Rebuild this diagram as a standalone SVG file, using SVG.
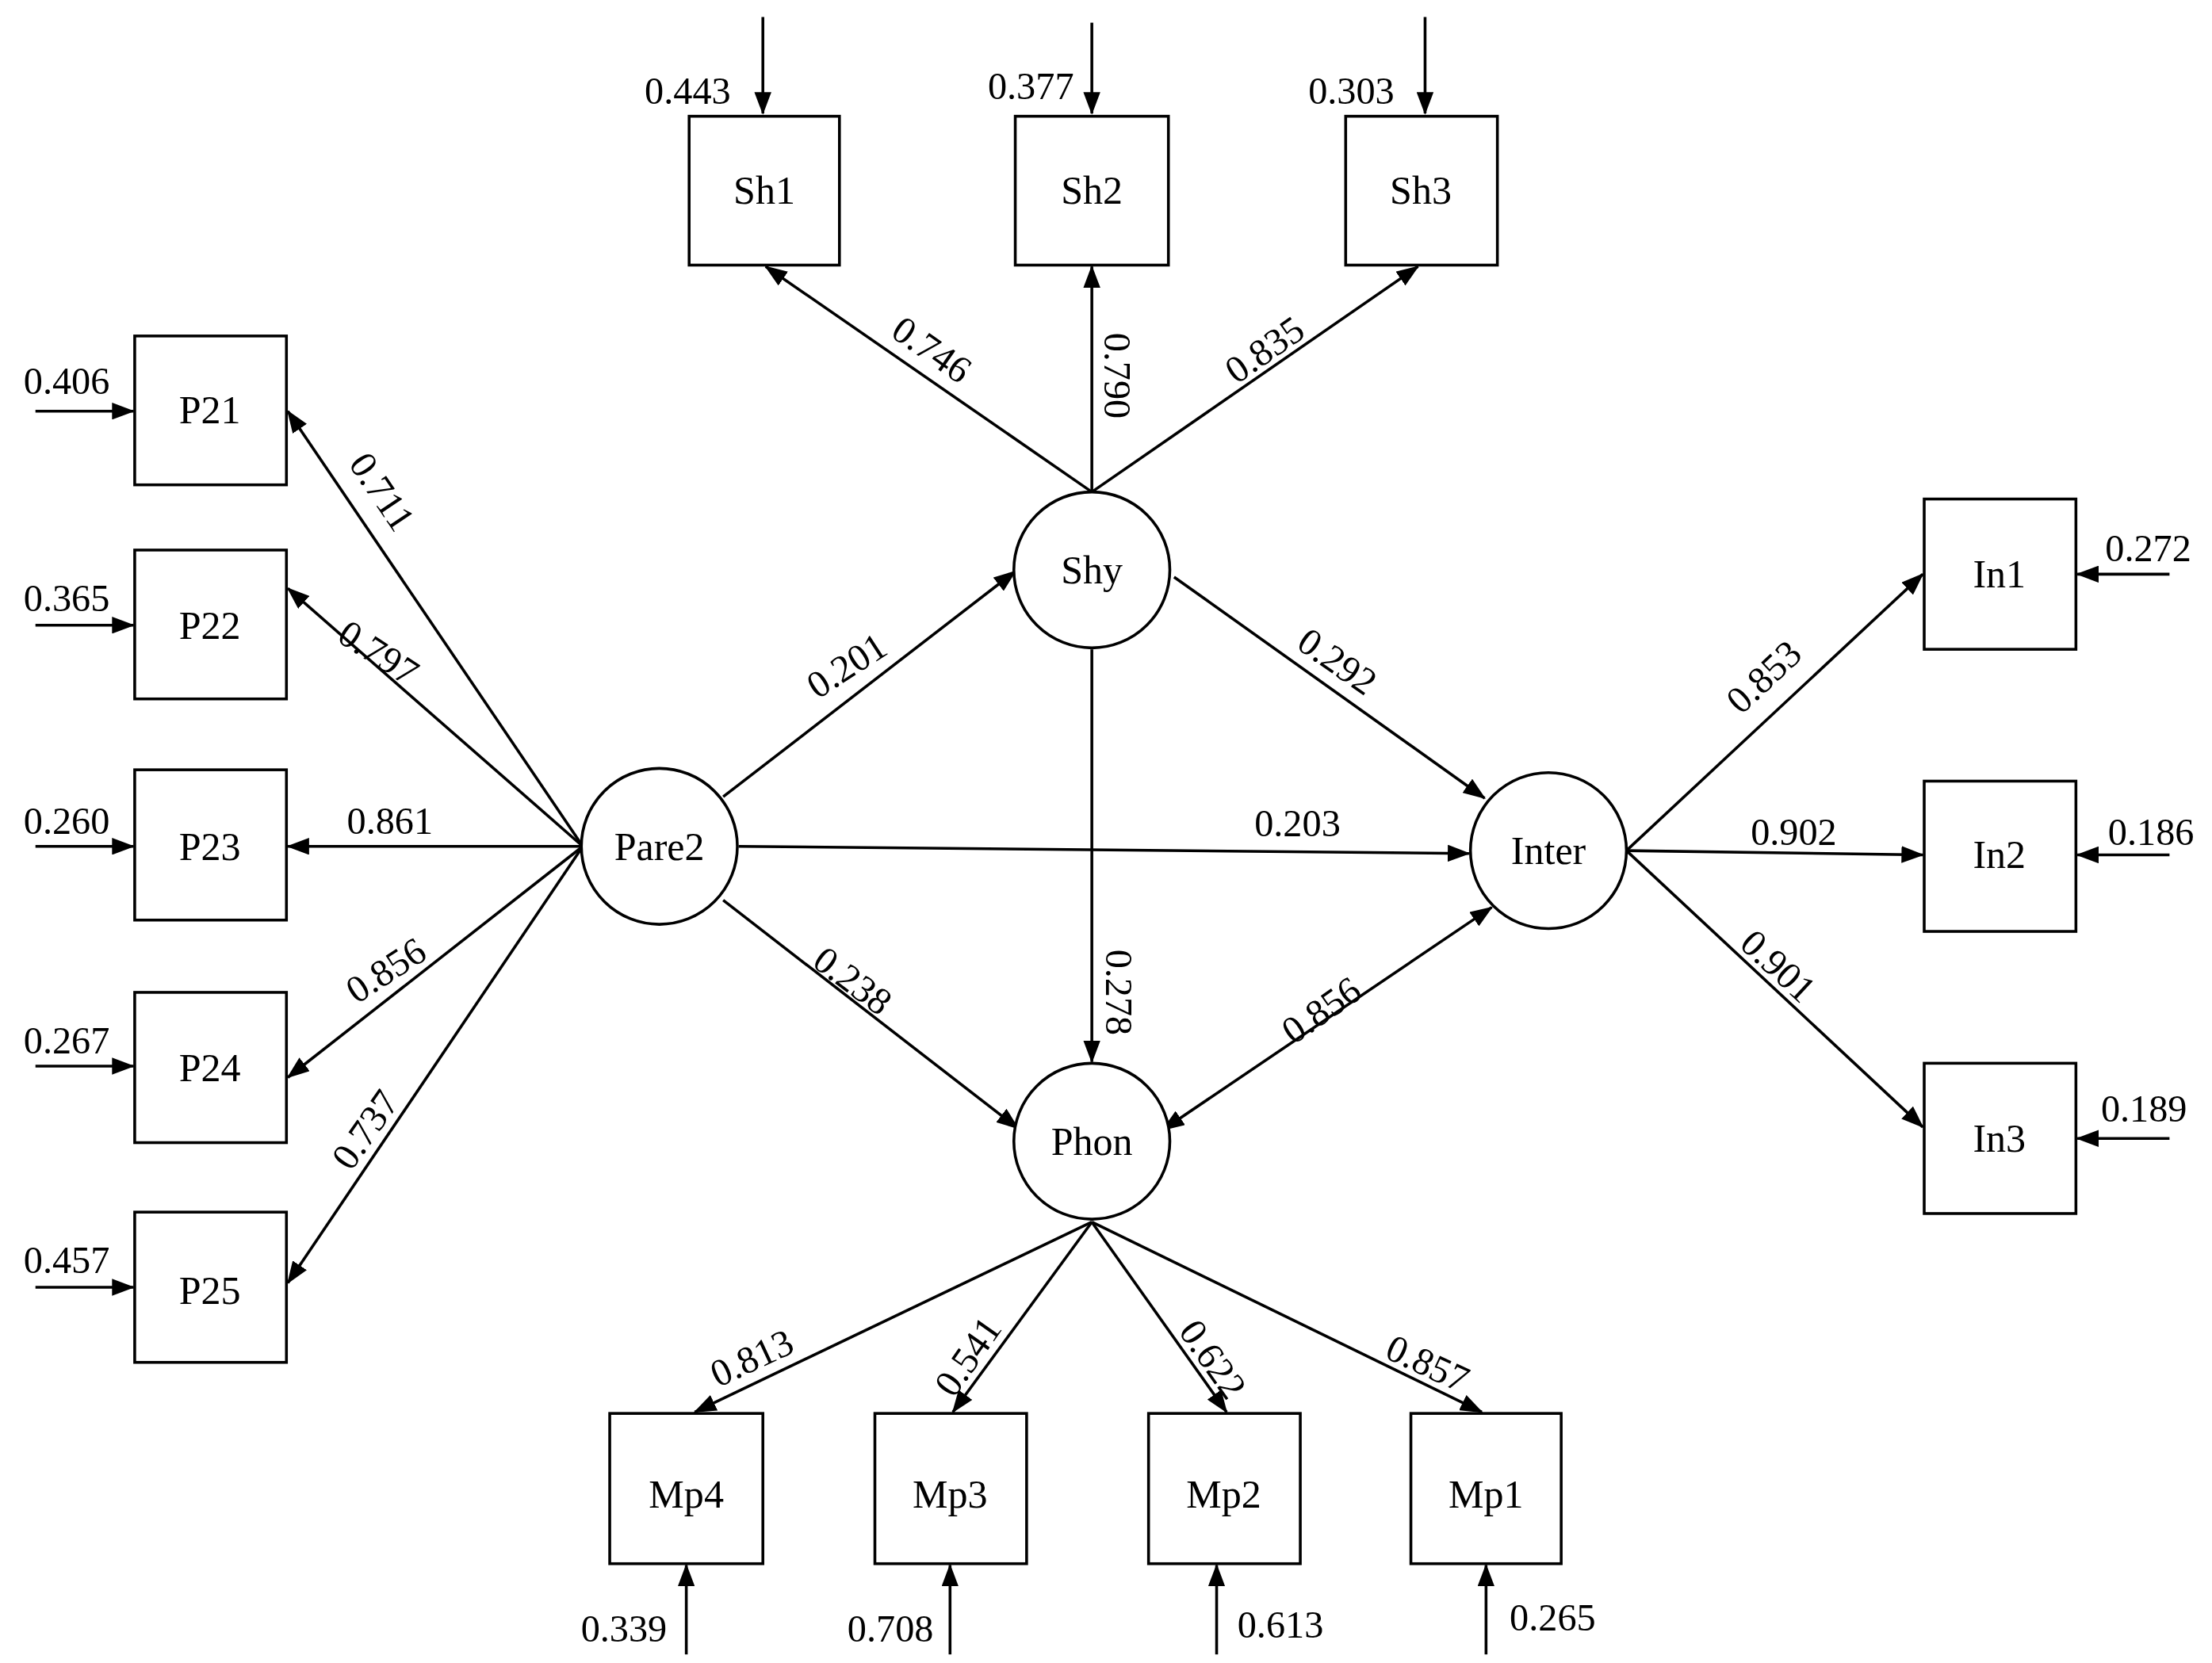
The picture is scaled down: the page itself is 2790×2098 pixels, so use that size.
<svg xmlns="http://www.w3.org/2000/svg" width="2790" height="2098" viewBox="0 0 2790 2098">
<style>
.b{fill:#fff;stroke:#000;stroke-width:2}
.t{font-family:"Liberation Serif",serif;font-size:28px;text-anchor:middle;dominant-baseline:central}
.l{font-family:"Liberation Serif",serif;font-size:27px;text-anchor:middle}
.c line{stroke:#000;stroke-width:2}
</style>
<defs>
<marker id="s" markerWidth="16" markerHeight="12" refX="15" refY="6" orient="auto-start-reverse" markerUnits="userSpaceOnUse"><path d="M0,0L16,6L0,12z"/></marker></defs>
<rect width="2790" height="2098" fill="#fff"/>
<g transform="scale(1.7885)">
<g class="c" id="connectors">
<line x1="538" y1="12" x2="538" y2="80" marker-end="url(#s)"/>
<line x1="770" y1="16" x2="770" y2="80" marker-end="url(#s)"/>
<line x1="1005" y1="12" x2="1005" y2="80" marker-end="url(#s)"/>
<line x1="25" y1="290" x2="94" y2="290" marker-end="url(#s)"/>
<line x1="25" y1="441" x2="94" y2="441" marker-end="url(#s)"/>
<line x1="25" y1="597" x2="94" y2="597" marker-end="url(#s)"/>
<line x1="25" y1="752" x2="94" y2="752" marker-end="url(#s)"/>
<line x1="25" y1="908" x2="94" y2="908" marker-end="url(#s)"/>
<line x1="1530" y1="405" x2="1465" y2="405" marker-end="url(#s)"/>
<line x1="1530" y1="603" x2="1465" y2="603" marker-end="url(#s)"/>
<line x1="1530" y1="803" x2="1465" y2="803" marker-end="url(#s)"/>
<line x1="484" y1="1167" x2="484" y2="1104" marker-end="url(#s)"/>
<line x1="670" y1="1167" x2="670" y2="1104" marker-end="url(#s)"/>
<line x1="858" y1="1167" x2="858" y2="1104" marker-end="url(#s)"/>
<line x1="1048" y1="1167" x2="1048" y2="1104" marker-end="url(#s)"/>
<line x1="770" y1="347" x2="540" y2="188" marker-end="url(#s)"/>
<line x1="770" y1="347" x2="770" y2="188" marker-end="url(#s)"/>
<line x1="770" y1="347" x2="1000" y2="188" marker-end="url(#s)"/>
<line x1="411" y1="597" x2="203" y2="290" marker-end="url(#s)"/>
<line x1="411" y1="597" x2="203" y2="415" marker-end="url(#s)"/>
<line x1="411" y1="597" x2="203" y2="597" marker-end="url(#s)"/>
<line x1="411" y1="597" x2="203" y2="760" marker-end="url(#s)"/>
<line x1="411" y1="597" x2="203" y2="905" marker-end="url(#s)"/>
<line x1="1147" y1="600" x2="1356" y2="405" marker-end="url(#s)"/>
<line x1="1147" y1="600" x2="1356" y2="603" marker-end="url(#s)"/>
<line x1="1147" y1="600" x2="1356" y2="795" marker-end="url(#s)"/>
<line x1="770" y1="862" x2="490" y2="996" marker-end="url(#s)"/>
<line x1="770" y1="862" x2="672" y2="996" marker-end="url(#s)"/>
<line x1="770" y1="862" x2="865" y2="996" marker-end="url(#s)"/>
<line x1="770" y1="862" x2="1045" y2="996" marker-end="url(#s)"/>
<line x1="510" y1="562" x2="716" y2="403" marker-end="url(#s)"/>
<line x1="828" y1="407" x2="1047" y2="563" marker-end="url(#s)"/>
<line x1="521" y1="597" x2="1036" y2="602" marker-end="url(#s)"/>
<line x1="510" y1="635" x2="718" y2="796" marker-end="url(#s)"/>
<line x1="770" y1="458" x2="770" y2="749" marker-end="url(#s)"/>
<line x1="1052" y1="640" x2="820" y2="797" marker-start="url(#s)" marker-end="url(#s)"/>
</g>
<g id="Sh1"><rect class="b" x="486" y="82" width="106" height="105"/><text class="t" x="539" y="134">Sh1</text></g>
<g id="Sh2"><rect class="b" x="716" y="82" width="108" height="105"/><text class="t" x="770" y="134">Sh2</text></g>
<g id="Sh3"><rect class="b" x="949" y="82" width="107" height="105"/><text class="t" x="1002" y="134">Sh3</text></g>
<g id="P21"><rect class="b" x="95" y="237" width="107" height="105"/><text class="t" x="148" y="289">P21</text></g>
<g id="P22"><rect class="b" x="95" y="388" width="107" height="105"/><text class="t" x="148" y="441">P22</text></g>
<g id="P23"><rect class="b" x="95" y="543" width="107" height="106"/><text class="t" x="148" y="597">P23</text></g>
<g id="P24"><rect class="b" x="95" y="700" width="107" height="106"/><text class="t" x="148" y="753">P24</text></g>
<g id="P25"><rect class="b" x="95" y="855" width="107" height="106"/><text class="t" x="148" y="910">P25</text></g>
<g id="In1"><rect class="b" x="1357" y="352" width="107" height="106"/><text class="t" x="1410" y="405">In1</text></g>
<g id="In2"><rect class="b" x="1357" y="551" width="107" height="106"/><text class="t" x="1410" y="603">In2</text></g>
<g id="In3"><rect class="b" x="1357" y="750" width="107" height="106"/><text class="t" x="1410" y="803">In3</text></g>
<g id="Mp4"><rect class="b" x="430" y="997" width="108" height="106"/><text class="t" x="484" y="1054">Mp4</text></g>
<g id="Mp3"><rect class="b" x="617" y="997" width="107" height="106"/><text class="t" x="670" y="1054">Mp3</text></g>
<g id="Mp2"><rect class="b" x="810" y="997" width="107" height="106"/><text class="t" x="863" y="1054">Mp2</text></g>
<g id="Mp1"><rect class="b" x="995" y="997" width="106" height="106"/><text class="t" x="1048" y="1054">Mp1</text></g>
<g id="Shy"><circle class="b" cx="770" cy="402" r="55"/><text class="t" x="770" y="402">Shy</text></g>
<g id="Pare2"><circle class="b" cx="465" cy="597" r="55"/><text class="t" x="465" y="597">Pare2</text></g>
<g id="Inter"><circle class="b" cx="1092" cy="600" r="55"/><text class="t" x="1092" y="600">Inter</text></g>
<g id="Phon"><circle class="b" cx="770" cy="805" r="55"/><text class="t" x="770" y="805">Phon</text></g>
<g id="labels">
<text class="l" x="485" y="73">0.443</text>
<text class="l" x="727" y="70">0.377</text>
<text class="l" x="953" y="73">0.303</text>
<text class="l" x="47" y="278">0.406</text>
<text class="l" x="47" y="431">0.365</text>
<text class="l" x="47" y="588">0.260</text>
<text class="l" x="47" y="743">0.267</text>
<text class="l" x="47" y="898">0.457</text>
<text class="l" x="1515" y="396">0.272</text>
<text class="l" x="1517" y="596">0.186</text>
<text class="l" x="1512" y="791">0.189</text>
<text class="l" x="440" y="1158">0.339</text>
<text class="l" x="628" y="1158">0.708</text>
<text class="l" x="903" y="1155">0.613</text>
<text class="l" x="1095" y="1150">0.265</text>
<text class="l" transform="translate(652,254) rotate(35)">0.746</text>
<text class="l" transform="translate(779,265) rotate(90)">0.790</text>
<text class="l" transform="translate(897,254) rotate(-35)">0.835</text>
<text class="l" transform="translate(262,352) rotate(56)">0.711</text>
<text class="l" transform="translate(262,468) rotate(33)">0.797</text>
<text class="l" x="275" y="588">0.861</text>
<text class="l" transform="translate(277,692) rotate(-33)">0.856</text>
<text class="l" transform="translate(265,802) rotate(-55)">0.737</text>
<text class="l" transform="translate(602,477) rotate(-33)">0.201</text>
<text class="l" transform="translate(938,474) rotate(35)">0.292</text>
<text class="l" x="915" y="590">0.203</text>
<text class="l" transform="translate(596,699) rotate(37)">0.238</text>
<text class="l" transform="translate(780,700) rotate(90)">0.278</text>
<text class="l" transform="translate(937,720) rotate(-35)">0.856</text>
<text class="l" transform="translate(1250,484) rotate(-43)">0.853</text>
<text class="l" x="1265" y="596">0.902</text>
<text class="l" transform="translate(1248,688) rotate(43)">0.901</text>
<text class="l" transform="translate(534,966) rotate(-25)">0.813</text>
<text class="l" transform="translate(690,962) rotate(-55)">0.541</text>
<text class="l" transform="translate(848,964) rotate(55)">0.622</text>
<text class="l" transform="translate(1003,970) rotate(25)">0.857</text>
</g>
</g>
</svg>
